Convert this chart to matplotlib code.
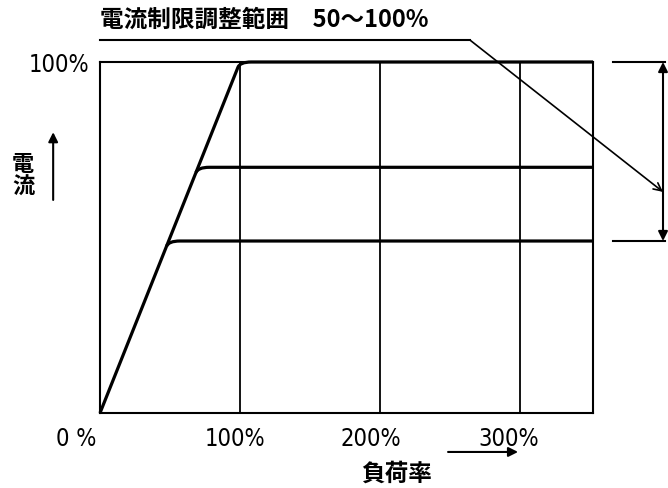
import matplotlib
matplotlib.use('Agg')
import matplotlib.pyplot as plt
import matplotlib.transforms as mtransforms
from matplotlib.path import Path
from matplotlib.patches import PathPatch

# load ratio ticks (1.0 = 100%)
load_ticks = [0, 1, 2, 3]
load_labels = ['0 %', '100%', '200%', '300%']
label_shift_px = [-24, -5, -9, -11]
# current limit settings (fraction of rated current)
limit_levels = [1.0, 0.70, 0.49]
x_max = 3.52

title_text = '電流制限調整範囲　50～100%'
ylabel_text = '電\n流'
xlabel_text = '負荷率'

cjk = ['Noto Sans CJK JP', 'DejaVu Sans']
num = ['DejaVu Sans']

fig = plt.figure(figsize=(6.68, 4.88), dpi=100)
ax = fig.add_axes([100 / 668, 1 - 413 / 488, 493 / 668, 351 / 488])
ax.set_xlim(0, x_max)
ax.set_ylim(0, 1)

for s in ax.spines.values():
    s.set_linewidth(1.5)

# vertical grid lines at 100/200/300%
for t in load_ticks[1:]:
    ax.axvline(t, color='k', lw=1.3)

# ramp + limit curves with rounded knees
bx, fx = 0.015, 0.08
for i, lv in enumerate(limit_levels):
    if i == 0:
        verts = [(0, 0), (lv - bx, lv - bx)]
        codes = [Path.MOVETO, Path.LINETO]
    else:
        verts = [(lv - bx, lv - bx)]
        codes = [Path.MOVETO]
    verts += [(lv, lv), (lv + fx, lv), (x_max, lv)]
    codes += [Path.CURVE3, Path.CURVE3, Path.LINETO]
    ax.add_patch(PathPatch(Path(verts, codes), fill=False, lw=2.3,
                           ec='k', capstyle='butt', clip_on=False))

# ticks
ax.set_xticks(load_ticks)
ax.set_xticklabels(load_labels, family=num, fontstretch='condensed', fontsize=17)
ax.tick_params(axis='x', length=0, pad=10)
for lab, dx in zip(ax.get_xticklabels(), label_shift_px):
    lab.set_transform(lab.get_transform() +
                      mtransforms.ScaledTranslation(dx / 100, 0, fig.dpi_scale_trans))
ax.set_yticks([1.0])
ax.set_yticklabels(['100%'], family=num, fontstretch='condensed', fontsize=17)
ax.tick_params(axis='y', length=0, pad=8)

# title with underline and leader arrow
ax.text(0.0, 1.12, title_text, transform=ax.transAxes, family=cjk,
        fontweight='bold', fontsize=17, ha='left', va='center')
ax.plot([0.0, 0.75], [1.063, 1.063], transform=ax.transAxes, color='k',
        lw=1.5, clip_on=False)
ax.annotate('', xy=(1.142, 0.63), xytext=(0.75, 1.063),
            xycoords='axes fraction', textcoords='axes fraction',
            arrowprops=dict(arrowstyle='->', lw=1.2, color='k',
                            shrinkA=0, shrinkB=0, mutation_scale=14))

# range bracket on the right
blend = mtransforms.blended_transform_factory(ax.transAxes, ax.transData)
for lv in [limit_levels[0], limit_levels[-1]]:
    ax.plot([1.04, 1.146], [lv, lv], transform=blend, color='k', lw=1.5,
            clip_on=False)
ax.annotate('', xy=(1.142, limit_levels[0]), xytext=(1.142, limit_levels[-1]),
            xycoords=blend, textcoords=blend,
            arrowprops=dict(arrowstyle='<|-|>', lw=1.5, color='k',
                            shrinkA=0, shrinkB=0, mutation_scale=14))

# axis names with arrows
ax.annotate('', xy=(-0.095, 0.80), xytext=(-0.095, 0.607),
            xycoords='axes fraction',
            arrowprops=dict(arrowstyle='-|>', lw=1.5, color='k',
                            shrinkA=0, shrinkB=0, mutation_scale=14))
ax.text(-0.156, 0.675, ylabel_text, transform=ax.transAxes, family=cjk,
        fontweight='bold', fontsize=16, ha='center', va='center',
        linespacing=1.0)
ax.annotate('', xy=(0.848, -0.111), xytext=(0.706, -0.111),
            xycoords='axes fraction',
            arrowprops=dict(arrowstyle='-|>', lw=1.5, color='k',
                            shrinkA=0, shrinkB=0, mutation_scale=14))
ax.text(0.602, -0.174, xlabel_text, transform=ax.transAxes, family=cjk,
        fontweight='bold', fontsize=17, ha='center', va='center')

fig.savefig('out.png', dpi=100)
